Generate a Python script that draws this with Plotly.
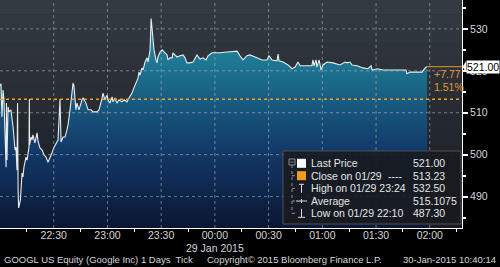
import plotly.graph_objects as go
from datetime import datetime

# ---------------- data ----------------
tick_times = [
    "22:00:00","22:00:34","22:01:06","22:01:42","22:02:12","22:02:48","22:03:24","22:03:36","22:03:54","22:04:30",
    "22:05:00","22:06:06","22:07:18","22:08:24","22:08:54","22:09:30","22:09:48","22:10:06","22:10:24","22:11:24",
    "22:11:42","22:12:18","22:12:48","22:13:24","22:14:30","22:15:06","22:16:12","22:16:24","22:16:30","22:17:18",
    "22:17:54","22:18:24","22:19:30","22:20:42","22:21:12","22:22:18","22:23:30","22:24:36","22:25:42","22:26:48",
    "22:27:54","22:29:00","22:30:12","22:31:18","22:32:24","22:33:30","22:33:48","22:34:06","22:35:12","22:36:18",
    "22:37:24","22:38:00","22:39:06","22:39:42","22:40:12","22:40:48","22:41:18","22:41:54","22:42:24","22:43:00",
    "22:44:06","22:45:48","22:46:24","22:48:00","22:49:12","22:50:48","22:51:54","22:54:12","22:55:18","22:57:00",
    "22:57:30","22:58:36","22:59:48","23:00:18","23:01:24","23:02:36","23:03:06","23:04:12","23:05:18","23:06:30",
    "23:08:06","23:09:18","23:10:54","23:11:30","23:12:36","23:13:42","23:14:18","23:16:00","23:17:06","23:17:36",
    "23:18:12","23:19:18","23:19:54","23:21:00","23:22:06","23:22:42","23:23:48","23:24:24","23:25:30","23:26:00",
    "23:27:06","23:27:42","23:28:12","23:29:24","23:30:30","23:32:12","23:33:18","23:33:48","23:34:54","23:36:06",
    "23:36:36","23:37:42","23:38:54","23:40:30","23:42:12","23:43:18","23:44:24","23:46:06","23:47:48","23:50:00",
    "23:51:42","23:53:24","23:55:00","23:56:12","23:58:24","00:01:12","00:02:54","00:06:48","00:10:06","00:12:24",
    "00:14:00","00:15:42","00:17:54","00:19:36","00:23:30","00:26:18","00:29:06","00:30:12","00:31:54","00:34:42",
    "00:35:18","00:35:48","00:38:06","00:40:48","00:43:06","00:44:48","00:46:24","00:47:36","00:51:30","00:54:12",
    "00:54:48","00:55:24","00:56:30","00:57:00","00:58:12","00:59:18","01:00:24","01:02:36","01:06:00","01:09:54",
    "01:12:42","01:13:48","01:15:30","01:16:36","01:19:24","01:22:42","01:25:30","01:27:12","01:27:48","01:30:36",
    "01:33:54","01:39:30","01:45:06","01:46:42","01:47:18","01:49:00","01:52:54","01:55:42","01:57:24","01:58:30",
]
tick_prices = [
    516.4, 516.9, 509.0, 515.4, 513.1, 501.1, 497.0, 512.3, 498.7, 511.4,
    510.2, 510.7, 506.6, 501.1, 501.8, 496.3, 512.3, 491.6, 487.3, 489.2,
    492.3, 495.6, 494.7, 497.1, 499.4, 498.7, 501.8, 513.3, 502.3, 504.2,
    503.5, 504.7, 502.8, 505.2, 503.3, 501.6, 501.1, 499.9, 499.4, 498.2,
    499.2, 500.4, 501.8, 502.8, 503.5, 513.3, 503.0, 503.0, 504.2, 504.2,
    505.9, 507.1, 510.7, 513.1, 514.7, 517.1, 516.4, 513.5, 510.7, 512.3,
    510.7, 513.1, 513.5, 512.3, 510.7, 510.7, 510.2, 510.2, 510.7, 513.5,
    514.7, 513.1, 514.2, 513.1, 512.3, 513.8, 512.6, 513.5, 512.3, 513.1,
    512.6, 513.1, 512.6, 513.1, 513.8, 514.7, 515.4, 517.1, 518.3, 519.7,
    519.0, 520.7, 520.2, 522.1, 523.1, 522.1, 525.0, 532.5, 527.4, 525.0,
    522.6, 521.9, 523.3, 524.5, 525.0, 524.3, 523.8, 522.6, 523.1, 523.1,
    524.3, 523.8, 523.3, 523.6, 523.8, 523.1, 521.9, 521.9, 522.1, 523.8,
    522.8, 523.1, 522.6, 523.6, 524.3, 524.3, 524.3, 524.5, 524.7, 524.7,
    523.6, 522.6, 523.6, 523.8, 523.1, 522.6, 522.6, 523.6, 522.6, 522.4,
    524.0, 522.4, 522.1, 521.4, 520.5, 520.9, 522.1, 521.2, 521.2, 521.2,
    522.6, 521.2, 522.6, 520.9, 522.6, 520.2, 521.4, 522.1, 521.9, 521.4,
    522.1, 521.9, 522.1, 521.4, 521.2, 520.7, 520.5, 521.2, 520.2, 520.5,
    520.2, 520.2, 520.2, 520.2, 519.3, 519.7, 519.7, 519.7, 520.7, 521.0,
]
x_tick_labels = ["22:30", "23:00", "23:30", "00:00", "00:30", "01:00", "01:30", "02:00"]
x_minor_labels = ["22:15", "22:45", "23:15", "23:45", "00:15", "00:45", "01:15", "01:45", "02:15"]
y_ticks = [490, 500, 510, 520, 530]
y_minor = [485, 495, 505, 515, 525, 535]

prev_close = 513.23
last_price = 521.00
change_abs = "+7.77"
change_pct = "1.51%"
legend_labels = ["Last Price", "Close on 01/29", "High on 01/29 23:24", "Average", "Low on 01/29 22:10"]
legend_values = ["521.00", "513.23", "532.50", "515.1075", "487.30"]
footer_left = "GOOGL US Equity (Google Inc) 1 Days  Tick"
footer_mid = "Copyright\u00a9 2015 Bloomberg Finance L.P."
footer_right = "30-Jan-2015 10:40:14"
date_label = "29 Jan 2015"


def to_dt(s):
    parts = [int(p) for p in s.split(":")]
    while len(parts) < 3:
        parts.append(0)
    h, m, sec = parts
    day = 29 if h >= 12 else 30
    return datetime(2015, 1, day, h, m, sec)


n = min(len(tick_times), len(tick_prices))
xs = [to_dt(t) for t in tick_times[:n]]
ys = tick_prices[:n]

x_range = [datetime(2015, 1, 29, 22, 0, 0), datetime(2015, 1, 30, 2, 18, 0)]
y_range = [482.5, 536.9]

# plot geometry (px) for layout helpers
W, H = 500, 267
ML, MR, MT, MB = 0, 38, 0, 39
PW, PH = W - ML - MR, H - MT - MB


def px2x(px):
    return (px - ML) / PW


def py2y(py):
    return (MT + PH - py) / PH


FONT = "Liberation Sans, Arial, sans-serif"
TXT = "#d4d6d8"

fig = go.Figure()

fig.add_trace(go.Scatter(
    x=xs, y=ys, mode="lines",
    line=dict(color="#e6ecef", width=1.1),
    fill="tozeroy",
    fillgradient=dict(type="vertical",
                      colorscale=[[0.0, "#0a1633"], [0.45, "#123a6a"], [1.0, "#1f7e97"]],
                      start=y_range[0], stop=524.5),
    hoverinfo="skip", showlegend=False,
))

# last price line to axis
fig.add_trace(go.Scatter(
    x=[xs[-1], x_range[1]], y=[last_price, last_price], mode="lines",
    line=dict(color="#c8802e", width=1.2), hoverinfo="skip", showlegend=False,
))

shapes = []
# background gradient bands
bg_top = (0x33, 0x3a, 0x41)
bg_bot = (0x17, 0x1b, 0x21)
nb = 16
for i in range(nb):
    t = i / (nb - 1)
    c = tuple(int(round(bg_bot[k] + (bg_top[k] - bg_bot[k]) * t)) for k in range(3))
    shapes.append(dict(type="rect", xref="paper", yref="paper",
                       x0=0, x1=1, y0=i / nb, y1=(i + 1) / nb,
                       fillcolor="rgb(%d,%d,%d)" % c, line=dict(width=0), layer="below"))

grid_line = dict(color="rgba(185,190,196,0.55)", width=1, dash="dot")
for v in y_ticks:
    shapes.append(dict(type="line", xref="paper", yref="y", x0=0, x1=1, y0=v, y1=v,
                       line=grid_line, layer="above"))
for lab in x_tick_labels:
    d = to_dt(lab)
    shapes.append(dict(type="line", xref="x", yref="paper", x0=d, x1=d, y0=0, y1=1,
                       line=grid_line, layer="above"))

# previous close dotted line
shapes.append(dict(type="line", xref="paper", yref="y", x0=0, x1=1, y0=prev_close, y1=prev_close,
                   line=dict(color="#f0a028", width=1.6, dash="dot"), layer="above"))

# legend box
shapes.append(dict(type="rect", xref="paper", yref="paper",
                   x0=px2x(283), x1=px2x(461), y0=py2y(224), y1=py2y(151),
                   fillcolor="rgba(24,27,31,0.9)", line=dict(color="#4e5257", width=1), layer="above"))

row_y = [163.3, 175.7, 188.3, 201.0, 213.3]
tree_c = "#8c9096"
shapes.append(dict(type="rect", xref="paper", yref="paper",
                   x0=px2x(289), x1=px2x(295), y0=py2y(165), y1=py2y(159),
                   line=dict(color=tree_c, width=1), fillcolor="rgba(0,0,0,0)", layer="above"))
shapes.append(dict(type="line", xref="paper", yref="paper",
                   x0=px2x(290.5), x1=px2x(293.5), y0=py2y(162), y1=py2y(162),
                   line=dict(color=tree_c, width=1), layer="above"))
shapes.append(dict(type="line", xref="paper", yref="paper",
                   x0=px2x(292), x1=px2x(292), y0=py2y(165), y1=py2y(row_y[-1]),
                   line=dict(color=tree_c, width=1, dash="dot"), layer="above"))
for ry in row_y[1:]:
    shapes.append(dict(type="line", xref="paper", yref="paper",
                       x0=px2x(292), x1=px2x(295), y0=py2y(ry), y1=py2y(ry),
                       line=dict(color=tree_c, width=1), layer="above"))
shapes.append(dict(type="rect", xref="paper", yref="paper",
                   x0=px2x(297), x1=px2x(306), y0=py2y(row_y[0] + 4.5), y1=py2y(row_y[0] - 4.5),
                   fillcolor="#ffffff", line=dict(width=0), layer="above"))
shapes.append(dict(type="rect", xref="paper", yref="paper",
                   x0=px2x(297), x1=px2x(306), y0=py2y(row_y[1] + 4.5), y1=py2y(row_y[1] - 4.5),
                   fillcolor="#f39a1c", line=dict(width=0), layer="above"))
ic = "#d8dadc"
shapes.append(dict(type="line", xref="paper", yref="paper",
                   x0=px2x(301.5), x1=px2x(301.5), y0=py2y(row_y[2] - 4), y1=py2y(row_y[2] + 4.5),
                   line=dict(color=ic, width=1), layer="above"))
shapes.append(dict(type="line", xref="paper", yref="paper",
                   x0=px2x(299), x1=px2x(304), y0=py2y(row_y[2] - 4), y1=py2y(row_y[2] - 4),
                   line=dict(color=ic, width=1), layer="above"))
shapes.append(dict(type="line", xref="paper", yref="paper",
                   x0=px2x(296), x1=px2x(307), y0=py2y(row_y[3]), y1=py2y(row_y[3]),
                   line=dict(color=ic, width=1), layer="above"))
shapes.append(dict(type="line", xref="paper", yref="paper",
                   x0=px2x(301.5), x1=px2x(301.5), y0=py2y(row_y[3] - 2), y1=py2y(row_y[3] + 2),
                   line=dict(color=ic, width=1), layer="above"))
shapes.append(dict(type="line", xref="paper", yref="paper",
                   x0=px2x(301.5), x1=px2x(301.5), y0=py2y(row_y[4] - 4.5), y1=py2y(row_y[4] + 4),
                   line=dict(color=ic, width=1), layer="above"))
shapes.append(dict(type="line", xref="paper", yref="paper",
                   x0=px2x(298), x1=px2x(305), y0=py2y(row_y[4] + 4), y1=py2y(row_y[4] + 4),
                   line=dict(color=ic, width=1), layer="above"))

# last price tag arrow
ppu = PH / (y_range[1] - y_range[0])
shapes.append(dict(type="path", xref="paper", yref="y",
                   path="M %f,%f L %f,%f L %f,%f Z" % (
                       px2x(462.5), last_price,
                       px2x(466), last_price + 5.5 / ppu,
                       px2x(466), last_price - 5.5 / ppu),
                   fillcolor="#ffffff", line=dict(width=0), layer="above"))

annotations = []
for lab, val, ry in zip(legend_labels, legend_values, row_y):
    annotations.append(dict(xref="paper", yref="paper", x=px2x(309), y=py2y(ry),
                            text=lab, showarrow=False, xanchor="left", yanchor="middle",
                            font=dict(family=FONT, size=10.5, color="#e4e6e8")))
    annotations.append(dict(xref="paper", yref="paper", x=px2x(411), y=py2y(ry),
                            text=val, showarrow=False, xanchor="left", yanchor="middle",
                            font=dict(family=FONT, size=10.5, color="#e4e6e8")))
annotations.append(dict(xref="paper", yref="paper", x=px2x(386), y=py2y(row_y[1]),
                        text="----", showarrow=False, xanchor="left", yanchor="middle",
                        font=dict(family=FONT, size=10.5, color="#e4e6e8")))

annotations.append(dict(xref="paper", yref="y", x=px2x(466), y=last_price,
                        text="%.2f" % last_price, showarrow=False, xanchor="left", yanchor="middle",
                        bgcolor="#ffffff", borderpad=0,
                        font=dict(family=FONT, size=10.5, color="#000000")))
annotations.append(dict(xref="x", yref="y", x=xs[-1], y=last_price, xshift=5, yshift=-7,
                        text=change_abs, showarrow=False, xanchor="left", yanchor="middle",
                        font=dict(family=FONT, size=10.5, color="#e2953a")))
annotations.append(dict(xref="x", yref="y", x=xs[-1], y=last_price, xshift=5, yshift=-20,
                        text=change_pct, showarrow=False, xanchor="left", yanchor="middle",
                        font=dict(family=FONT, size=10.5, color="#e2953a")))
annotations.append(dict(xref="x", yref="paper", x=to_dt("00:00"), y=py2y(248.5),
                        text=date_label, showarrow=False, xanchor="center", yanchor="middle",
                        font=dict(family=FONT, size=10.5, color=TXT)))
annotations.append(dict(xref="paper", yref="paper", x=px2x(2), y=py2y(259),
                        text=footer_left, showarrow=False, xanchor="left", yanchor="middle",
                        font=dict(family=FONT, size=9.5, color=TXT)))
annotations.append(dict(xref="paper", yref="paper", x=px2x(294), y=py2y(259),
                        text=footer_mid, showarrow=False, xanchor="center", yanchor="middle",
                        font=dict(family=FONT, size=9.5, color=TXT)))
annotations.append(dict(xref="paper", yref="paper", x=px2x(498), y=py2y(259),
                        text=footer_right, showarrow=False, xanchor="right", yanchor="middle",
                        font=dict(family=FONT, size=9.5, color=TXT)))

fig.update_layout(
    width=W, height=H,
    margin=dict(l=ML, r=MR, t=MT, b=MB, pad=0),
    paper_bgcolor="#000000", plot_bgcolor="#252b31",
    showlegend=False,
    shapes=shapes, annotations=annotations,
    font=dict(family=FONT, size=10.5, color=TXT),
    xaxis=dict(
        range=x_range, type="date",
        tickmode="array", tickvals=[to_dt(l) for l in x_tick_labels], ticktext=x_tick_labels,
        ticks="", showgrid=False, zeroline=False,
        showline=True, linecolor="#ffffff", linewidth=1,
        ticklabelstandoff=-3,
        tickfont=dict(family=FONT, size=10.5, color=TXT),
        minor=dict(tickmode="array", tickvals=[to_dt(l) for l in x_minor_labels],
                   ticks="outside", ticklen=3, tickcolor="#ffffff", showgrid=False),
        fixedrange=True,
    ),
    yaxis=dict(
        range=y_range, side="right",
        tickmode="array", tickvals=y_ticks,
        ticks="outside", ticklen=5, tickwidth=2, tickcolor="#ffffff",
        showgrid=False, zeroline=False,
        showline=True, linecolor="#ffffff", linewidth=1,
        tickfont=dict(family=FONT, size=10.5, color=TXT),
        minor=dict(tickmode="array", tickvals=y_minor, ticks="outside", ticklen=3,
                   tickcolor="#ffffff", showgrid=False),
        fixedrange=True,
    ),
)

fig.write_html("out.html")
